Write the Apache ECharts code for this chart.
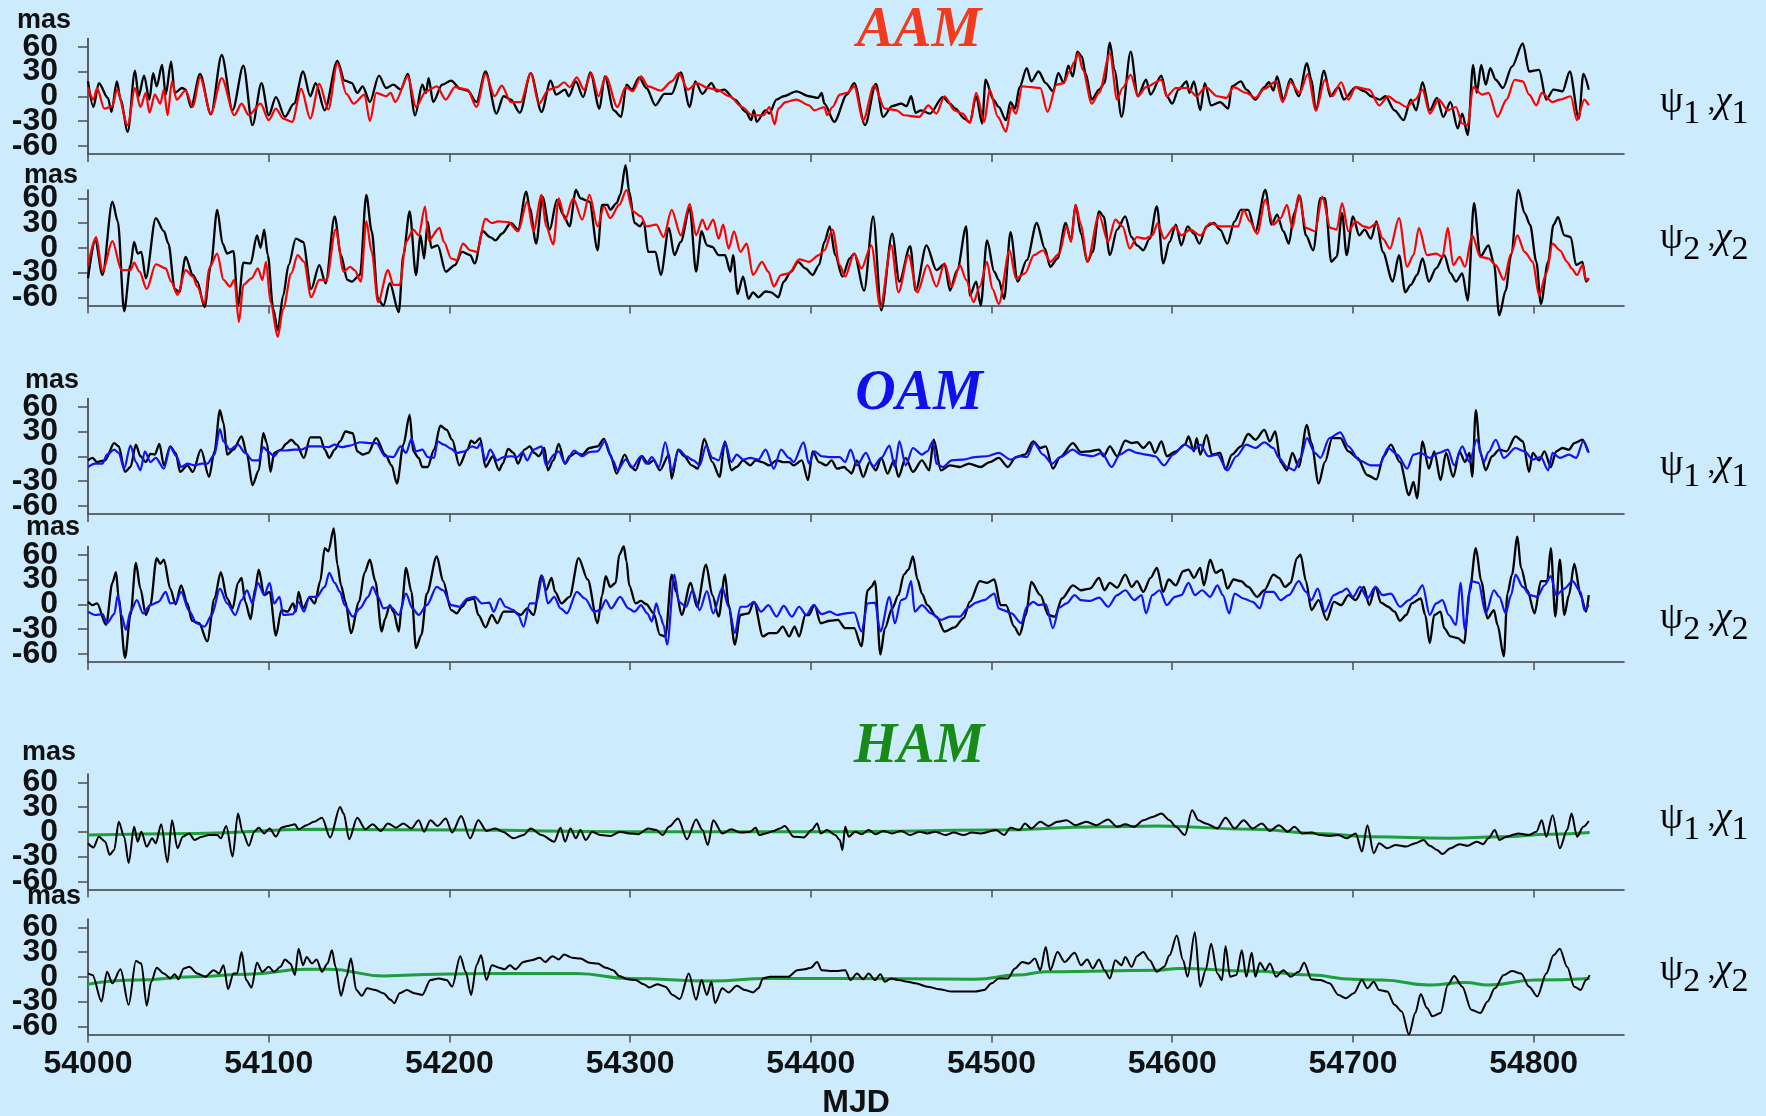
<!DOCTYPE html>
<html><head><meta charset="utf-8">
<script src="https://cdn.jsdelivr.net/npm/echarts@6.0.0/dist/echarts.min.js"></script>
<style>html,body{margin:0;padding:0;background:#CCEBFC;}#c{width:1766px;height:1116px;}</style>
</head><body><div id="c"></div><script>
// ---- tick labels ----
const xTicks = [54000,54100,54200,54300,54400,54500,54600,54700,54800];
const yTicks = [-60,-30,0,30,60];
const yTicksMajor = [-60,0,60];   // drawn by the main y axis
const yTicksMinor = [-30,30];     // drawn by a companion label axis
const groupTitles = ['AAM','OAM','HAM'];
const rowLabels = ['1','2','1','2','1','2'];

// ---- AAM psi1/chi1 (MJD, mas) ----
const aamPsi1Obs = [[54000,18],[54003,-13],[54006,16],[54011,-2],[54013,-19],[54016,18],[54018,-4],[54022,-43],[54026,31],[54028,0],[54031,25],[54034,-4],[54036,28],[54038,12],[54041,38],[54043,2],[54046,42],[54048,4],[54052,10],[54054,8],[54057,-13],[54062,27],[54068,-22],[54074,50],[54080,-17],[54086,37],[54091,-35],[54096,16],[54100,-23],[54104,-1],[54109,-25],[54114,-9],[54119,30],[54123,0],[54126,16],[54131,-17],[54138,43],[54142,19],[54146,16],[54149,4],[54152,12],[54156,-7],[54161,25],[54165,10],[54169,14],[54173,8],[54177,27],[54181,-23],[54185,14],[54187,4],[54188.5,22],[54191,-7],[54196,14],[54201,19],[54206,9],[54210,7],[54215,-7],[54220,30],[54226,-21],[54230,0],[54234,-4],[54239,-20],[54245,28],[54251,-19],[54256,19],[54259,2],[54264,8],[54266,0],[54270,18],[54274,-1],[54278,29],[54283,-15],[54286,24],[54291,-17],[54295,-25],[54298,14],[54301,8],[54305,23],[54309,10],[54314,-11],[54319,3],[54323,3],[54328,29],[54333,-13],[54336,18],[54340,3],[54345,16],[54348,6],[54352,8],[54358,-4],[54364,-19],[54367,-29],[54368.5,-17],[54370,-31],[54375,-17],[54377,-21],[54381,-4],[54385,0],[54392,6],[54399,0],[54404,-2],[54406,4],[54407.5,-9],[54413,-31],[54420,2],[54424,16],[54430,-35],[54436,15],[54440,-25],[54445,-12],[54450,-9],[54453,-12],[54455.5,0],[54458,-20],[54461,-17],[54466,-21],[54473,-1],[54477,-9],[54480,-15],[54485,-27],[54488,-32],[54491.5,0],[54494.8,-33],[54496.7,20],[54501,-4],[54504,-13],[54508,-29],[54510.5,-7],[54513,-15],[54515.5,11],[54519.5,34],[54522,18],[54526,30],[54530,16],[54534,6],[54537,28],[54540,16],[54542.5,37],[54545,24],[54547.5,54],[54550,48],[54552,28],[54555.5,-4],[54559.5,8],[54562.5,16],[54565.5,65],[54568,32],[54572,-25],[54577,54],[54581,0],[54585.5,20],[54588,2],[54594,25],[54597,0],[54600,-9],[54603.5,8],[54608,18],[54609.5,4],[54612,18],[54615.5,-17],[54618,16],[54621.5,-11],[54626.5,-7],[54631,-15],[54633,12],[54638,18],[54641,8],[54646,-4],[54651,11],[54653.5,17],[54656,7],[54658,24],[54661.5,-4],[54665.5,21],[54670,0],[54674.5,40],[54677,20],[54679.5,-17],[54684,31],[54687.5,0],[54692,11],[54695,-4],[54701.5,11],[54706.5,6],[54710,0],[54715,-4],[54718,0],[54723,-17],[54728,-29],[54732,-4],[54735,-17],[54738.5,17],[54742.5,-17],[54746.5,-2],[54750,-25],[54754,-7],[54758,-39],[54760.5,-21],[54763.5,-47],[54766.5,38],[54768.5,4],[54771,38],[54773.5,14],[54776,34],[54779,20],[54783,10],[54788,36],[54794,64],[54797.5,30],[54803,32],[54807,-4],[54811,8],[54816,6],[54820,30],[54825,-27],[54827.5,27],[54830.5,8]];
const aamPsi1Model = [[54000,11],[54003,-4],[54005,10],[54009,-15],[54013.5,-12],[54016,8],[54022,-35],[54026,10],[54029,-13],[54032,4],[54034,-20],[54037,2],[54040,-9],[54042,8],[54044,-23],[54046.5,18],[54049,-4],[54054,7],[54058,-13],[54062,23],[54068,-21],[54074,22],[54081,-23],[54085,-9],[54089,-23],[54095.5,-9],[54100,-29],[54104,-15],[54108,-27],[54113,-31],[54118,9],[54123,-27],[54128,15],[54133,-16],[54138,40],[54143,3],[54147,-9],[54153,2],[54156,-30],[54159.5,4],[54165,0],[54167.5,4],[54170,-7],[54177,24],[54181.5,-13],[54187,6],[54193,12],[54198,-4],[54203,11],[54210,8],[54215,-13],[54220,27],[54225,0],[54229,13],[54234,-7],[54239.5,-7],[54245,28],[54249.5,-9],[54255,8],[54259.5,11],[54263.5,17],[54266.5,11],[54270.5,23],[54274.5,8],[54278.5,28],[54282.5,0],[54286.5,24],[54293,-13],[54297.5,11],[54301.5,6],[54306,24],[54310,12],[54317,7],[54323,18],[54327,28],[54332,8],[54337,16],[54343,10],[54348,8],[54355,0],[54362,-13],[54367.5,-23],[54374,-23],[54377,-13],[54380,-34],[54382,-15],[54386,-7],[54392,-4],[54399,-11],[54402,-17],[54407.5,-13],[54409,-23],[54412,-13],[54416,2],[54420,4],[54424,12],[54429,-29],[54435,13],[54441,-15],[54447.5,-17],[54451.5,-23],[54460,-25],[54465,-11],[54469.5,-21],[54474,0],[54479.5,-17],[54484,-21],[54488,-32],[54491.5,4],[54496,-31],[54499,8],[54503.5,-25],[54508,-43],[54511,-13],[54513.5,-21],[54517,12],[54522,11],[54527,10],[54531,-19],[54536,14],[54540,16],[54543,30],[54546,42],[54548,52],[54550.5,32],[54555.5,-9],[54559.5,4],[54565.5,52],[54569.5,-4],[54572.5,10],[54577,26],[54581,0],[54585.5,11],[54594,20],[54597,0],[54602,10],[54608.5,10],[54613.5,0],[54618.5,11],[54625,0],[54630,-2],[54634,11],[54641,4],[54646,-2],[54651,9],[54657.5,18],[54661,-7],[54665.5,17],[54670.5,4],[54675,27],[54679.5,-17],[54684.5,20],[54688.5,0],[54693.5,17],[54697.5,-4],[54701.5,11],[54709,8],[54714.5,-11],[54719.5,0],[54724.5,-7],[54729.5,-13],[54734.5,-4],[54738.5,8],[54742.5,-21],[54747.5,-4],[54752.5,-17],[54757,-13],[54760.5,-33],[54763.5,-35],[54766.5,11],[54771.5,2],[54775,4],[54780,-25],[54785,-4],[54789.5,20],[54794,18],[54797.5,2],[54801.5,-11],[54804.5,4],[54810.5,-7],[54814.5,-4],[54820.5,0],[54824,-29],[54828,-4],[54830.5,-11]];

// ---- AAM psi2/chi2 ----
const aamPsi2Obs = [[54000,-37],[54004,9],[54008,-33],[54013.5,56],[54016.5,32],[54020,-77],[54023.5,-21],[54025.5,7],[54027.5,-7],[54029.5,-5],[54032,-37],[54037.5,36],[54042,20],[54044.5,5],[54048,-50],[54050.5,-54],[54054,-11],[54058,-33],[54060.5,-41],[54064.5,-72],[54068,-21],[54071.5,46],[54074.5,5],[54077,-7],[54080.5,-4],[54083,-70],[54086,-18],[54090,-19],[54093.5,15],[54095.5,0],[54097.5,22],[54099.5,-9],[54102.5,-74],[54105,-100],[54108,-58],[54111,-21],[54115,11],[54119,7],[54123.5,-50],[54128,-21],[54131.5,-43],[54136.5,38],[54140,-9],[54143.5,-39],[54146,-41],[54150.5,-33],[54154,64],[54157,20],[54160.5,-62],[54163.5,-70],[54167,-43],[54172,-78],[54174.5,-9],[54178,44],[54181.5,-33],[54184,15],[54186,-13],[54188,32],[54190,0],[54193.5,3],[54198,-29],[54203,-21],[54207,-5],[54211.5,-9],[54214,-19],[54218.5,20],[54222.5,13],[54225.5,9],[54229,17],[54234,30],[54238,22],[54242.5,68],[54244.5,48],[54248,5],[54251.5,62],[54255.5,22],[54259.5,58],[54263,40],[54266.5,26],[54270,70],[54272.5,60],[54277.5,56],[54282,-3],[54284.5,52],[54287.5,52],[54289,46],[54292.5,54],[54294.5,64],[54297.5,100],[54299.5,68],[54302.5,30],[54305.5,26],[54307.5,32],[54310,-5],[54314,-5],[54317,-33],[54321.5,24],[54324.5,-9],[54328,7],[54333,48],[54336.5,-29],[54339.5,20],[54342.5,3],[54345.5,1],[54349,-9],[54352.5,-9],[54355.5,-29],[54357,-9],[54359.5,-56],[54362.5,-35],[54365.5,-62],[54368,-54],[54371,-60],[54375,-53],[54378,-54],[54382,-60],[54385,-41],[54389,-29],[54393,-17],[54397,-25],[54401,-33],[54404.5,-21],[54407.5,7],[54410.5,26],[54413.5,-9],[54417.5,-35],[54421.5,-13],[54424,-7],[54429.5,-52],[54434.5,38],[54439,-76],[54445,17],[54449,-41],[54455,2],[54458,-52],[54464,3],[54469.5,-27],[54474,-20],[54477,-52],[54481,-27],[54486,26],[54488,-58],[54491.5,-41],[54494,-70],[54497.5,9],[54501.5,-29],[54504,-39],[54507,-62],[54510.5,19],[54514.5,-41],[54519.5,-15],[54525,30],[54529.5,-1],[54532.5,-23],[54536.5,-13],[54541,30],[54544,9],[54546.5,52],[54549.5,17],[54553,-17],[54556,-5],[54559.5,44],[54562,38],[54565.5,-9],[54569.5,22],[54574,38],[54577.5,13],[54580.5,3],[54584,-3],[54587.5,11],[54591.5,50],[54595,-19],[54598.5,7],[54602,28],[54605,3],[54608.5,26],[54612,17],[54615,5],[54619,26],[54623,30],[54626.5,22],[54630.5,5],[54634.5,32],[54638,46],[54642,46],[54646,20],[54651.5,70],[54655,28],[54658,40],[54661.5,20],[54664.5,5],[54667.5,42],[54670.5,63],[54674,15],[54678,-3],[54682,60],[54684.5,60],[54688,-17],[54691,-11],[54694,42],[54696.5,-9],[54700,38],[54703.5,15],[54706.5,22],[54710,11],[54713,32],[54716.5,-5],[54722,-41],[54725.5,-9],[54729,-54],[54732,-45],[54735.5,-33],[54738.5,-13],[54742,-41],[54746,-25],[54750.5,-9],[54754,-31],[54757,-41],[54760.5,-31],[54763.5,-64],[54767,54],[54770.5,-11],[54775,3],[54778,-19],[54781,-82],[54784.5,-52],[54787.5,-9],[54791.5,70],[54795,42],[54798,28],[54801.5,-17],[54804,-68],[54808,-17],[54811,28],[54813.5,37],[54817,15],[54820.5,13],[54823.5,-21],[54827,-17],[54829,-41],[54830.5,-37]];
const aamPsi2Model = [[54000,-21],[54004.5,13],[54008,-29],[54013.5,8],[54018.5,-27],[54023.5,-27],[54025.5,-18],[54028.5,-29],[54032.5,-50],[54037.5,-20],[54043,-25],[54046,-41],[54049.5,-57],[54054,-27],[54058,-35],[54060.5,-47],[54064.5,-68],[54067,-25],[54071.5,-7],[54075,-39],[54078.5,-47],[54081,-39],[54083.5,-90],[54086,-45],[54090.5,-37],[54094,-25],[54096.5,-39],[54098.5,-17],[54101,-66],[54105,-108],[54108,-74],[54112.5,-31],[54116,-9],[54119.5,-17],[54123.5,-60],[54128,-39],[54132,-39],[54137,22],[54141.5,-29],[54145,-23],[54147.5,-27],[54151,-41],[54154,32],[54157,-5],[54160.5,-66],[54166,-27],[54169,-45],[54172.5,-45],[54176,7],[54180,22],[54183,15],[54186.5,50],[54188.5,9],[54194.5,24],[54197,7],[54201,-13],[54204,-15],[54207.5,5],[54211.5,-3],[54215,-5],[54220,35],[54223.5,30],[54227,32],[54232.5,31],[54238,20],[54243,56],[54246.5,20],[54251,64],[54253.5,26],[54257.5,4],[54260.5,60],[54264,34],[54268.5,60],[54273.5,34],[54277.5,64],[54282,26],[54285.5,50],[54289,36],[54294,52],[54298,70],[54301.5,44],[54306,38],[54309,26],[54314.5,28],[54318.5,13],[54323,46],[54328,15],[54333,53],[54336.5,15],[54340,34],[54342.5,22],[54346,34],[54349,11],[54351.5,28],[54354.5,-1],[54357.5,20],[54361,-5],[54364.5,5],[54368,-33],[54373,-17],[54376.5,-29],[54379.5,-47],[54383.5,-33],[54388,-31],[54393.5,-14],[54399,-17],[54404.5,-9],[54407.5,-3],[54412,22],[54416,-21],[54419,-35],[54424,-7],[54428,-25],[54433.5,3],[54438.5,-72],[54444.5,3],[54448.5,-54],[54454,-9],[54459,-54],[54464.5,-21],[54469.5,-47],[54474,-19],[54478,-47],[54482.5,-21],[54486,-39],[54490,-66],[54493.5,-47],[54497.5,-17],[54500.5,-50],[54504,-68],[54510,-3],[54513.5,-37],[54518.5,-31],[54523.5,-9],[54528.5,-3],[54532.5,-17],[54537.5,-7],[54541.5,26],[54544,7],[54546.5,52],[54549.5,28],[54553,-17],[54559.5,40],[54564.5,7],[54568.5,34],[54572.5,26],[54576.5,-1],[54580.5,13],[54585,11],[54589,15],[54592,30],[54595.5,11],[54601.5,26],[54605,15],[54610,22],[54615.5,15],[54621,30],[54626.5,26],[54631.5,26],[54636.5,26],[54639.5,46],[54643,32],[54647,17],[54651.5,58],[54656,28],[54660,36],[54663.5,52],[54666.5,24],[54670,64],[54674,24],[54679,20],[54683,62],[54687.5,24],[54691,22],[54694,54],[54697.5,20],[54701.5,32],[54706,26],[54709,24],[54713,30],[54716.5,11],[54720.5,-1],[54725.5,36],[54730,-23],[54733.5,-9],[54736.5,24],[54741,-9],[54746,-7],[54749.5,-11],[54752.5,24],[54755.5,-21],[54759,-11],[54762,-23],[54766,15],[54770.5,-11],[54775,-13],[54779,-21],[54783.5,-39],[54787.5,-7],[54791,15],[54795,-5],[54799.5,-17],[54803,-58],[54807,-31],[54810.5,5],[54814.5,-3],[54818.5,-17],[54821,-25],[54824,-33],[54827,-21],[54829,-39],[54830.5,-37]];

// ---- OAM psi1/chi1 ----
const oamPsi1Obs = [[54000,-5],[54002.5,-2],[54005,-7],[54009.5,-5],[54014.5,16],[54017,12],[54020.5,-19],[54023.5,-13],[54026.5,14],[54029,0],[54032,-7],[54034.5,3],[54037,2],[54039.5,15],[54042,-11],[54045.5,12],[54048.5,4],[54051,-19],[54055,-11],[54058,-19],[54062.5,8],[54067,-25],[54070,6],[54073,56],[54075,40],[54077,2],[54080.5,8],[54085,24],[54088,2],[54091,-35],[54094.5,-17],[54097,28],[54099,16],[54101,-19],[54103,4],[54107,8],[54109.5,15],[54112.5,20],[54115.5,14],[54119.5,-2],[54123,23],[54128.5,23],[54131,8],[54133.5,-2],[54136.5,8],[54139.5,18],[54142.5,30],[54146.5,28],[54149,6],[54152,2],[54155,4],[54159.5,22],[54164.5,2],[54168,-11],[54171,-33],[54174.5,14],[54178,50],[54180,6],[54183,-2],[54185,-13],[54188,-13],[54191.5,8],[54195,37],[54198.5,32],[54201.5,20],[54205.5,-11],[54210,8],[54212,19],[54214,16],[54217,22],[54220,-13],[54224,0],[54227.5,-17],[54229.5,-9],[54232.5,9],[54235.5,4],[54238,-9],[54241.5,8],[54244.5,12],[54247,4],[54249.5,0],[54252.5,10],[54254.5,-17],[54257.5,-5],[54260.5,15],[54264,-9],[54266.5,0],[54270,4],[54273.5,2],[54277.5,10],[54282,12],[54285.5,21],[54289,2],[54292.5,-21],[54297,2],[54300.5,-13],[54303,-17],[54306.5,0],[54310,-9],[54313,-5],[54316.5,-17],[54321.5,2],[54323,-27],[54326.5,8],[54330,0],[54334,-11],[54337.5,-15],[54341,21],[54345.5,-7],[54349.5,-25],[54352.5,18],[54356,-17],[54359,-13],[54362.5,-5],[54366.5,-11],[54369.5,-5],[54373,-7],[54377,-11],[54381,-5],[54384.5,-7],[54388,-7],[54390.5,-11],[54395,-5],[54398.5,-29],[54401,6],[54404.5,-7],[54408.5,-11],[54411.5,-5],[54414.5,-15],[54418.5,-13],[54420.5,-17],[54422.5,-21],[54425.5,-5],[54429,-25],[54432.5,-7],[54436,-17],[54439,-2],[54442.5,-21],[54446,-5],[54448.5,-25],[54452.5,-2],[54456.5,-19],[54461.5,-5],[54465.5,-17],[54468,20],[54472,-17],[54477,-11],[54482.5,-13],[54487.5,-9],[54494,-13],[54499,-7],[54504,-2],[54509,-13],[54513.5,-1],[54518.5,2],[54523,18],[54527,10],[54530,12],[54534,-15],[54538,-1],[54545,16],[54549.5,5],[54554.5,6],[54559.5,8],[54562,0],[54565.5,12],[54569.5,0],[54574,19],[54577.5,16],[54580.5,17],[54584,10],[54587.5,17],[54590.5,4],[54594,18],[54597,0],[54602,6],[54607,14],[54609,24],[54612,6],[54613.5,22],[54615.5,2],[54619,26],[54622,2],[54626.5,4],[54629.5,-16],[54633,2],[54638,12],[54642,27],[54646,20],[54651,32],[54654,18],[54657,30],[54660,-7],[54663.5,-17],[54666.5,4],[54670,-13],[54674.5,38],[54677,16],[54681,-33],[54684.5,-7],[54688.5,22],[54693,22],[54697.5,6],[54702.5,-2],[54708,-23],[54713,-28],[54717,0],[54721,14],[54726,-7],[54731,-47],[54733.5,-31],[54735.5,-51],[54738.5,18],[54742,-15],[54745,6],[54748.5,-29],[54751.5,4],[54755.5,-25],[54759,6],[54762,-7],[54764.5,4],[54766,-25],[54768,56],[54770.5,4],[54773.5,-17],[54777,0],[54781,8],[54785,6],[54790,24],[54794,18],[54797.5,-19],[54799.5,4],[54803,-5],[54806,6],[54809.5,-13],[54812.5,6],[54816,10],[54819.5,8],[54822.5,16],[54827,20],[54830,6]];
const oamPsi1Model = [[54000,-13],[54004,-9],[54008,-9],[54010.5,2],[54014.5,8],[54017,4],[54020,-15],[54023.5,13],[54026.5,-7],[54029,-17],[54031.5,6],[54034.5,-7],[54037.5,-2],[54042,-15],[54045.5,11],[54049,0],[54051.5,-13],[54055,-9],[54059,-11],[54063,-9],[54066,-9],[54070,2],[54073,33],[54075,18],[54078.5,8],[54083,14],[54087,4],[54091,-5],[54094.5,-5],[54097,11],[54099.5,6],[54103,0],[54106,7],[54109.5,7],[54114,8],[54118,8],[54122.5,12],[54128,12],[54133,11],[54136.5,14],[54140.5,11],[54145,13],[54150.5,17],[54155.5,16],[54159.5,16],[54164.5,0],[54169,-1],[54173,12],[54176,4],[54179,21],[54181.5,6],[54185,8],[54188,-1],[54191.5,-2],[54193.5,18],[54197,14],[54201,9],[54204,4],[54208.5,6],[54212.5,12],[54215.5,10],[54217,16],[54220,-5],[54222.5,8],[54226.5,-5],[54230,-1],[54234,0],[54237.5,-1],[54240.5,5],[54243,-5],[54246.5,8],[54251,12],[54253.5,-11],[54258,2],[54260.5,6],[54264,-9],[54269,7],[54273.5,0],[54277.5,5],[54282,6],[54286,18],[54290.5,-5],[54293,-17],[54297.5,-4],[54301.5,-13],[54306,0],[54309,-9],[54312,-1],[54316,-13],[54319.5,17],[54323,-17],[54327,8],[54331,0],[54335,-5],[54338.5,-11],[54342,13],[54345.5,-2],[54349,-5],[54352.5,17],[54356,-7],[54359,2],[54362.5,-4],[54366.5,-2],[54371,-4],[54375,8],[54379.5,-15],[54383.5,8],[54388,-2],[54390.5,-7],[54396,17],[54399,-9],[54402,6],[54406,0],[54410,-1],[54416,-1],[54419,-7],[54422,8],[54425.5,-11],[54430.5,4],[54434.5,-13],[54439,-2],[54443.5,13],[54446.5,-13],[54449,18],[54452.5,-11],[54456.5,10],[54461.5,2],[54464.5,6],[54467.5,18],[54469.5,-9],[54473,-13],[54478,-5],[54484.5,-4],[54491,-1],[54497.5,0],[54504,4],[54510.5,-4],[54515.5,0],[54519.5,-1],[54523.5,16],[54528.5,2],[54533.5,-9],[54538,-1],[54545,8],[54549.5,2],[54556,0],[54561,4],[54566.5,-13],[54571,2],[54576,8],[54580.5,4],[54585.5,2],[54590.5,0],[54595.5,-11],[54600.5,2],[54607,14],[54612,8],[54615.5,14],[54620,0],[54625,2],[54630.5,-17],[54635.5,0],[54641,14],[54646,10],[54651,17],[54656,10],[54659,-2],[54663.5,-13],[54667.5,-17],[54671,-2],[54674.5,22],[54679,4],[54682,-2],[54687,22],[54693,29],[54697.5,12],[54703.5,-5],[54710,-11],[54714.5,-11],[54719.5,10],[54724.5,2],[54730,-15],[54733.5,2],[54737.5,4],[54742.5,-2],[54747.5,4],[54752.5,8],[54756,-11],[54760.5,12],[54764.5,-7],[54768.5,20],[54772.5,-7],[54775,5],[54779,20],[54783.5,-2],[54790,10],[54795,6],[54799.5,-4],[54804,-1],[54808,-17],[54810.5,4],[54814.5,-2],[54819.5,2],[54823.5,-2],[54827.5,18],[54830.5,4]];

// ---- OAM psi2/chi2 ----
const oamPsi2Obs = [[54000,3],[54002.5,-1],[54005,1],[54010,-25],[54013.5,26],[54015.5,39],[54017,7],[54020.5,-65],[54023.5,-13],[54026.5,50],[54029,19],[54032,-13],[54034.5,-1],[54038,56],[54040,49],[54042,54],[54045.5,19],[54048.5,0],[54051.5,23],[54055,1],[54057.5,-20],[54061.5,-23],[54066,-45],[54070,7],[54073.5,39],[54077,7],[54080,-5],[54083,26],[54085,32],[54087,3],[54090,-18],[54092.5,19],[54094.5,42],[54097.5,11],[54100.5,15],[54104,-38],[54107,-7],[54110.5,-9],[54113.5,1],[54115,-9],[54116.5,15],[54119,-5],[54122.5,8],[54125.5,1],[54128.5,28],[54131,68],[54133,64],[54136,92],[54138,48],[54140,23],[54142.5,3],[54145.5,-35],[54150,3],[54153,38],[54156,54],[54159,28],[54162.5,-33],[54164.5,-17],[54167,-1],[54169,-9],[54172,-33],[54173.5,-5],[54176,44],[54179,15],[54181.5,-53],[54184.5,-37],[54187.5,13],[54193,58],[54196.5,28],[54201,-7],[54204,-11],[54207,-3],[54210,5],[54213.5,7],[54216,-13],[54220,-28],[54223.5,-13],[54226.5,-23],[54230,-9],[54235.5,-9],[54239.5,-13],[54243,-5],[54246.5,-13],[54251,35],[54253.5,17],[54256.5,32],[54258.5,15],[54262,1],[54266.5,9],[54271.5,56],[54276.5,30],[54282,-23],[54284.5,11],[54286.5,34],[54289,21],[54292,26],[54294,60],[54296.5,70],[54298,52],[54299.5,23],[54303,1],[54306,4],[54309,0],[54313,-11],[54316.5,-37],[54319.5,-39],[54323,36],[54325.5,15],[54328.5,-13],[54333.5,26],[54337,-3],[54342,48],[54345.5,11],[54349,-15],[54352.5,36],[54354.5,-1],[54358,-49],[54361,-13],[54365.5,-11],[54368.5,3],[54373.5,-39],[54377,-35],[54381,-35],[54384.5,-27],[54388,-39],[54391,-27],[54393.5,-39],[54397,-13],[54399,-13],[54402,-1],[54405.5,-23],[54410.5,-20],[54415,-19],[54419,-29],[54424,-29],[54428,-51],[54431.5,17],[54433.5,21],[54435.5,28],[54438.5,-61],[54441,-29],[54445,-5],[54448.5,11],[54451.5,36],[54454,42],[54456.5,58],[54459,30],[54461.5,13],[54464.5,-1],[54469.5,-15],[54474,-33],[54479.5,-28],[54484.5,-17],[54488,3],[54493.5,28],[54497.5,26],[54501.5,30],[54505,-1],[54508,-1],[54512.5,-27],[54515.5,-37],[54519,-13],[54522,27],[54527,11],[54531.5,-13],[54535,-15],[54539,7],[54545,23],[54549.5,17],[54554.5,19],[54559.5,32],[54562.5,17],[54565.5,26],[54569.5,20],[54574,36],[54577.5,21],[54580.5,28],[54584,15],[54588,32],[54591.5,44],[54595,15],[54598,30],[54602,23],[54606,40],[54609,42],[54612,32],[54615.5,44],[54617.5,23],[54621,54],[54624,38],[54627.5,42],[54630.5,19],[54634,30],[54638,28],[54642,21],[54647,9],[54651,17],[54656,36],[54659,32],[54662.5,21],[54665.5,26],[54669,56],[54671,60],[54674,28],[54677,-7],[54681,5],[54685.5,-19],[54689.5,3],[54693.5,-1],[54697.5,11],[54701.5,5],[54706,21],[54709,-1],[54712.5,21],[54715.5,2],[54719.5,-3],[54723,-9],[54726,-20],[54729.5,-13],[54732.5,1],[54737.5,7],[54740,-13],[54742.5,-47],[54745,-13],[54748.5,-9],[54750.5,-29],[54754,-39],[54758,-41],[54761.5,-47],[54764.5,15],[54768,68],[54771,28],[54774.5,-17],[54778,-7],[54780,-25],[54783.5,-63],[54785.5,13],[54788,36],[54791,82],[54793,44],[54796.5,17],[54800.5,-11],[54804,28],[54807.5,28],[54809.5,68],[54812,-15],[54814.5,54],[54817,-13],[54819.5,11],[54822.5,49],[54826,11],[54829,-9],[54830.5,11]];
const oamPsi2Model = [[54000,-9],[54004,-13],[54008,-12],[54010.5,-23],[54014.5,-12],[54016.5,11],[54018.5,-13],[54021,-31],[54023.5,-9],[54027,5],[54030.5,-11],[54034.5,-1],[54039,3],[54043,15],[54045.5,1],[54048.5,2],[54051.5,15],[54056,-8],[54060,-23],[54064.5,-27],[54068.5,-13],[54073,19],[54077,1],[54081.5,-13],[54085,5],[54088,17],[54091,1],[54094,26],[54097.5,11],[54100.5,26],[54103,1],[54106,9],[54108,-13],[54113.5,-12],[54116.5,3],[54119.5,-9],[54122.5,9],[54126.5,9],[54131,21],[54133.5,38],[54136.5,26],[54139.5,15],[54142,-1],[54146.5,-15],[54150.5,-5],[54155,9],[54157.5,21],[54160.5,9],[54163.5,-5],[54167.5,-3],[54172,-13],[54176,13],[54179.5,-5],[54183,-13],[54187.5,-1],[54193,21],[54196.5,17],[54201,-1],[54205.5,-3],[54210,7],[54214,9],[54218,1],[54222,2],[54224.5,-9],[54228,7],[54231,-3],[54235.5,-7],[54238,-13],[54241,-27],[54244.5,1],[54248,1],[54251.5,34],[54254.5,1],[54258,9],[54261.5,-5],[54265,-11],[54270.5,15],[54275,7],[54280,-9],[54283.5,-7],[54286.5,5],[54289.5,-5],[54294.5,9],[54299,-5],[54302.5,-9],[54306,-1],[54309.5,-11],[54312,-21],[54314.5,1],[54316.5,-13],[54318.5,-25],[54320.5,-49],[54324.5,36],[54327,3],[54331,-3],[54334.5,17],[54338.5,-7],[54342.5,16],[54346,-11],[54351,20],[54354.5,-3],[54358,-35],[54361,-3],[54364.5,-3],[54368.5,3],[54372.5,-9],[54376.5,-1],[54381,-15],[54385,-2],[54389.5,-15],[54393.5,-3],[54397.5,-13],[54401.5,-1],[54406,-12],[54410.5,-9],[54414.5,-13],[54419.5,-11],[54424,-10],[54428,-33],[54431.5,1],[54435.5,2],[54438.5,-33],[54443.5,9],[54446.5,-23],[54450,5],[54452.5,7],[54455.5,28],[54457.5,-9],[54461.5,-1],[54466.5,-11],[54472,-19],[54477,-15],[54482.5,-15],[54487,-4],[54491.5,2],[54496,5],[54501.5,13],[54504,-5],[54506.5,-7],[54511,-11],[54516.5,-23],[54519.5,-3],[54523,3],[54526,-1],[54530,0],[54534,-29],[54537.5,-4],[54541.5,1],[54546,11],[54549.5,5],[54554.5,4],[54559.5,8],[54564.5,-3],[54569.5,11],[54574,17],[54579,5],[54583,11],[54585.5,-11],[54589,11],[54593,17],[54597,-1],[54601.5,9],[54605,11],[54609,26],[54612.5,11],[54616.5,17],[54621,9],[54625,23],[54628,11],[54631.5,-11],[54634.5,13],[54639.5,7],[54644.5,3],[54648.5,-5],[54651.5,15],[54656,15],[54660,5],[54664.5,11],[54670,28],[54674,15],[54677,5],[54680.5,19],[54684.5,-9],[54689.5,11],[54693.5,15],[54696.5,19],[54700,9],[54704,21],[54708,7],[54712.5,21],[54716.5,11],[54721,13],[54726,-3],[54731,5],[54734.5,11],[54738.5,23],[54742.5,-13],[54746,1],[54749.5,5],[54753,-13],[54757,-25],[54759.5,26],[54762,-31],[54765.5,28],[54769.5,26],[54773.5,-11],[54778,17],[54781,9],[54784.5,-11],[54787.5,11],[54790,36],[54794,21],[54798,11],[54802,9],[54806,23],[54809.5,34],[54812.5,11],[54817,19],[54821.5,28],[54826,15],[54828,-7],[54830.5,-1]];

// ---- HAM psi1/chi1 ----
const hamPsi1Obs = [[54000,-14],[54003,-19],[54006,-6],[54009.5,-12],[54012,-28],[54014.5,-22],[54017,12],[54020,-6],[54022.5,-38],[54025.5,6],[54027.5,-12],[54029.5,0],[54032.5,-18],[54035.5,-8],[54037.5,-14],[54040.5,9],[54044,-37],[54046.5,14],[54049.5,-20],[54052.5,-6],[54056,-2],[54059,-10],[54063,-6],[54067,-4],[54071.5,-4],[54073.5,-8],[54076.5,7],[54080,-30],[54083,22],[54085.5,0],[54089,-17],[54092,0],[54094.5,5],[54097.5,-2],[54100.5,4],[54104,-6],[54107,5],[54110.5,7],[54114.5,9],[54116.5,3],[54121,8],[54125,12],[54129.5,17],[54134,-7],[54139.5,30],[54141.5,22],[54144.5,-9],[54149,17],[54153.5,3],[54157.5,9],[54162,1],[54166,10],[54170.5,5],[54174.5,10],[54179,4],[54183,14],[54186,0],[54189.5,14],[54193.5,7],[54198,16],[54201.5,-1],[54206.5,19],[54211.5,-8],[54216,14],[54220.5,1],[54225.5,4],[54229.5,0],[54235.5,-8],[54241,-4],[54245,4],[54251,-4],[54258,-12],[54261.5,5],[54264,-12],[54267,4],[54270,-8],[54272.5,2],[54275.5,-10],[54279,0],[54283.5,-4],[54289,-5],[54294.5,0],[54299.5,-2],[54304.5,-3],[54310,4],[54314.5,2],[54318,-4],[54321.5,6],[54326.5,16],[54331.5,-9],[54336.5,15],[54340,2],[54343,-16],[54346,14],[54351,-2],[54356,3],[54361,-1],[54366.5,0],[54369.5,5],[54371.5,-4],[54375,-2],[54379.5,1],[54383,4],[54385.5,7],[54390.5,-6],[54396,-7],[54400.5,2],[54403.5,10],[54405.5,-2],[54409,2],[54413.5,-4],[54416,-10],[54417.5,-22],[54419,6],[54421,-6],[54424.5,0],[54428,-3],[54432,2],[54436,-3],[54440,1],[54445,-2],[54450,1],[54455,-4],[54460,0],[54464.5,-2],[54469,0],[54474.5,-4],[54479,-1],[54484.5,-4],[54489,-1],[54494,-2],[54502.5,2],[54507,-4],[54510.5,5],[54515.5,2],[54518.5,10],[54522,4],[54527,12],[54531.5,7],[54536.5,12],[54541.5,14],[54546.5,8],[54552.5,12],[54558,8],[54564.5,15],[54569.5,6],[54574,9],[54579,6],[54584,14],[54589,18],[54594,22],[54598.5,14],[54602,6],[54607,-4],[54611,26],[54614.5,14],[54618.5,10],[54625,4],[54629.5,17],[54634.5,4],[54639.5,14],[54644.5,4],[54649.5,10],[54654,1],[54659,8],[54664,0],[54667.5,6],[54672,-2],[54677,-1],[54682,-4],[54687,-5],[54692,-4],[54696.5,-8],[54701.5,-2],[54705,-24],[54708,8],[54711.5,-26],[54714.5,-14],[54719,-20],[54723.5,-16],[54729.5,-18],[54734.5,-14],[54739,-10],[54742.5,-17],[54746.5,-22],[54749.5,-27],[54754,-20],[54759,-15],[54763.5,-17],[54768.5,-12],[54772,-15],[54775,-8],[54778.5,2],[54781,-10],[54785,-6],[54791.5,-2],[54797.5,-4],[54801.5,0],[54804.5,14],[54807,-6],[54810.5,20],[54814.5,-20],[54818.5,2],[54821,22],[54824,-6],[54827.5,6],[54830.5,13]];
const hamPsi1Model = [[54000,-4],[54060,-2],[54125,3],[54210,2],[54295,0],[54416,0],[54500,2],[54560,6],[54592,7],[54645,3],[54680,-2],[54710,-6],[54753,-8],[54782,-6],[54810,-3],[54831,-1]];

// ---- HAM psi2/chi2 ----
const hamPsi2Obs = [[54000,4],[54002.5,2],[54007.5,-30],[54010.5,6],[54013.5,-8],[54018,9],[54022.5,-34],[54026.5,19],[54029.5,16],[54032.5,-35],[54035,-6],[54038,11],[54042,4],[54045.5,-2],[54048,3],[54050,-3],[54053,10],[54056,12],[54060.5,4],[54065,0],[54069.5,8],[54072.5,4],[54075,14],[54077.5,-15],[54080.5,4],[54082.5,4],[54085,30],[54087.5,-4],[54090.5,-13],[54093.5,17],[54096.5,6],[54100,12],[54103,6],[54106.5,12],[54109,21],[54112,16],[54114.5,2],[54116.5,34],[54119,14],[54121,24],[54124,16],[54126.5,21],[54129.5,6],[54132.5,16],[54135,32],[54137,12],[54140,-23],[54143,0],[54145.5,22],[54148.5,-16],[54151.5,-23],[54154.5,-14],[54159,-16],[54163.5,-20],[54167.5,-28],[54169.5,-32],[54172.5,-20],[54176.5,-16],[54180.5,-20],[54185,-22],[54189.5,-4],[54194,-2],[54198.5,-4],[54201.5,-12],[54206,25],[54209,6],[54212,-22],[54215,14],[54217.5,26],[54220.5,-4],[54223.5,14],[54227.5,11],[54230.5,9],[54233.5,14],[54236.5,9],[54241,18],[54245.5,20],[54250,23],[54253,18],[54257,25],[54260.5,21],[54263.5,27],[54268,23],[54272.5,22],[54277.5,17],[54282,16],[54286.5,11],[54290.5,8],[54294,1],[54298.5,-3],[54303,-4],[54307.5,-9],[54310.5,-13],[54315,-9],[54319.5,-12],[54323.5,-22],[54327.5,-27],[54332.5,4],[54336.5,-28],[54339.5,-4],[54342.5,-22],[54345,-6],[54347,-32],[54351,-14],[54354.5,-19],[54359,-11],[54363.5,-16],[54368,-19],[54371,-14],[54373.5,-2],[54377.5,0],[54382,0],[54387.5,0],[54392.5,8],[54396.5,9],[54400,11],[54403.5,18],[54406,8],[54410.5,7],[54415,7],[54419,8],[54422,-4],[54425.5,4],[54429,-3],[54432,4],[54435.5,-4],[54438.5,3],[54441,-6],[54444.5,-2],[54448.5,-4],[54453.5,-6],[54458,-8],[54464.5,-12],[54471,-15],[54478,-18],[54484.5,-18],[54491,-18],[54496,-16],[54500,-8],[54504,-2],[54509,-2],[54513,10],[54517,18],[54520.5,16],[54524,22],[54527,8],[54530,36],[54532.5,8],[54536.5,30],[54540.5,18],[54546,29],[54549.5,14],[54553,21],[54556,10],[54559.5,21],[54562.5,8],[54565.5,-2],[54568.5,20],[54572,14],[54574,24],[54577.5,12],[54580.5,25],[54584,30],[54587.5,20],[54591.5,6],[54595.5,12],[54598.5,26],[54602.5,50],[54606,20],[54608.5,0],[54612.5,54],[54615.5,-12],[54618.5,8],[54621.5,40],[54625,4],[54627.5,-4],[54629.5,37],[54632,0],[54635.5,2],[54638.5,32],[54641,0],[54644,29],[54646,0],[54648.5,17],[54651.5,8],[54654,16],[54657.5,0],[54661.5,8],[54665.5,0],[54670,6],[54673,17],[54677,-3],[54682,-4],[54687,-8],[54692,-22],[54696,-26],[54700.5,-20],[54705,-4],[54708,-14],[54711.5,-6],[54714.5,-16],[54719,-18],[54723,-34],[54727,-42],[54731,-70],[54734.5,-44],[54737.5,-21],[54741,-38],[54744,-48],[54748.5,-44],[54752.5,-10],[54756,1],[54760.5,-12],[54765.5,-40],[54770.5,-44],[54774.5,-30],[54778.5,-14],[54783.5,2],[54788,7],[54793,4],[54797.5,-12],[54802,-24],[54807,4],[54811,26],[54814.5,34],[54818.5,12],[54822.5,-12],[54826,-16],[54829,-4],[54831,2]];
const hamPsi2Model = [[54000,-9],[54027,-4],[54058,0],[54088,3],[54121,9],[54133,9],[54164,1],[54194,3],[54224,4],[54270,4],[54300,-2],[54345,-5],[54376,-2],[54416,-2],[54491,-3],[54514,2],[54530,6],[54563,7],[54592,8],[54604,10],[54644,7],[54677,2],[54700,-3],[54716,-4],[54742,-10],[54762,-7],[54775,-10],[54801,-4],[54831,-2]];

// ---- layout / style (not data) ----
const GRID_TOPS = [38.5, 190, 398.5, 546.5, 774, 919];
const GRID_H = 115.5;
const MODEL_COLORS = ['#FF0000','#FF0000','#1414F0','#1414F0','#1E9E3C','#1E9E3C'];
const TITLE_COLORS = ['#F23A1E','#1010EE','#178A17'];
const TITLE_Y = [31.5, 395, 747.5];
const MAS_POS = [[71,21],[78,176],[79,381],[80,528],[76,753],[81,897]];
const ROW_LABEL_Y = [102, 238, 465, 618, 818, 970];
const obsSets = [aamPsi1Obs, aamPsi2Obs, oamPsi1Obs, oamPsi2Obs, hamPsi1Obs, hamPsi2Obs];
const modelSets = [aamPsi1Model, aamPsi2Model, oamPsi1Model, oamPsi2Model, hamPsi1Model, hamPsi2Model];

const SANS = '"Liberation Sans", Arial, Helvetica, sans-serif';
const SERIF = '"Liberation Serif", "Times New Roman", serif';

const grids = [], xAxes = [], yAxes = [], series = [], graphics = [];
const yLabelStyle = (vals) => ({show: true, customValues: vals, margin: 30, fontSize: 32, fontWeight: 'bold',
  fontFamily: SANS, color: '#111', hideOverlap: false, showMinLabel: true, showMaxLabel: true,
  formatter: v => String(v)});
for (let i = 0; i < 6; i++) {
  grids.push({left: 88, right: 142, top: GRID_TOPS[i], height: GRID_H, outerBoundsMode: 'none', containLabel: false});
  xAxes.push({
    type: 'value', gridIndex: i, min: 54000, max: 54850, interval: 100,
    axisLine: {show: true, onZero: false, lineStyle: {color: '#3c3c3c', width: 1.6}},
    axisTick: {show: true, inside: false, length: 8, customValues: xTicks, lineStyle: {color: '#555', width: 1.6}},
    axisLabel: {show: i === 5, customValues: xTicks, margin: 14, fontSize: 32, fontWeight: 'bold',
      fontFamily: SANS, color: '#111', hideOverlap: false, showMinLabel: true, showMaxLabel: true,
      formatter: v => String(v)},
    splitLine: {show: false}
  });
}
// main y axes (index 0..5): axis line, all ticks, labels -60/0/60
for (let i = 0; i < 6; i++) {
  yAxes.push({
    type: 'value', gridIndex: i, position: 'left', offset: 0, min: -70, max: 70,
    axisLine: {show: true, onZero: false, lineStyle: {color: '#3c3c3c', width: 1.6}},
    axisTick: {show: true, inside: false, length: 10, customValues: yTicks, lineStyle: {color: '#555', width: 1.6}},
    axisLabel: yLabelStyle(yTicksMajor),
    splitLine: {show: false}
  });
}
// companion y axes (index 6..11): only labels -30/30
for (let i = 0; i < 6; i++) {
  yAxes.push({
    type: 'value', gridIndex: i, position: 'left', offset: 0, min: -70, max: 70,
    axisLine: {show: false}, axisTick: {show: false},
    axisLabel: yLabelStyle(yTicksMinor),
    splitLine: {show: false}
  });
}
for (let i = 0; i < 6; i++) {
  const isHam = i >= 4;
  series.push({type: 'line', xAxisIndex: i, yAxisIndex: i, data: obsSets[i], showSymbol: false, symbol: 'none',
    clip: false, smooth: 0.3, smoothMonotone: 'x', animation: false,
    lineStyle: {color: '#000', width: isHam ? 2 : 2.3}, z: isHam ? 3 : 2});
  series.push({type: 'line', xAxisIndex: i, yAxisIndex: i, data: modelSets[i], showSymbol: false, symbol: 'none',
    clip: false, smooth: isHam ? true : 0.3, smoothMonotone: 'x', animation: false,
    lineStyle: {color: MODEL_COLORS[i], width: isHam ? 3 : 2.2}, z: isHam ? 2 : 3});

  graphics.push({type: 'text', x: MAS_POS[i][0], y: MAS_POS[i][1], silent: true,
    style: {text: 'mas', fontSize: 27, fontWeight: 'bold', fontFamily: SANS, fill: '#111',
      textAlign: 'right', textVerticalAlign: 'middle'}});
  const k = rowLabels[i];
  graphics.push({type: 'text', x: 1660, y: ROW_LABEL_Y[i], silent: true,
    style: {text: '{g|ψ}{s|' + k + '}{c| ,}{x|χ}{s|' + k + '}', textAlign: 'left', textVerticalAlign: 'middle',
      fontFamily: SERIF, fontSize: 36, fill: '#000',
      rich: {g: {fontFamily: SERIF, fontSize: 37, fill: '#000'},
             c: {fontFamily: SERIF, fontSize: 30, fill: '#000'},
             x: {fontFamily: SERIF, fontSize: 37, fontStyle: 'italic', fill: '#000'},
             s: {fontFamily: SERIF, fontSize: 34, fill: '#000', padding: [24, 0, 0, 0]}}}});
}
for (let g = 0; g < 3; g++) {
  graphics.push({type: 'text', x: 919, y: TITLE_Y[g], silent: true,
    style: {text: groupTitles[g], fontSize: 56, fontWeight: 'bold', fontStyle: 'italic', fontFamily: SERIF,
      fill: TITLE_COLORS[g], textAlign: 'center', textVerticalAlign: 'middle'}});
}
graphics.push({type: 'text', x: 856, y: 1103, silent: true,
  style: {text: 'MJD', fontSize: 32, fontWeight: 'bold', fontFamily: SANS, fill: '#111',
    textAlign: 'center', textVerticalAlign: 'middle'}});

const chart = echarts.init(document.getElementById('c'), null, {renderer: 'canvas', width: 1766, height: 1116});
chart.setOption({
  backgroundColor: '#CCEBFC',
  animation: false,
  grid: grids, xAxis: xAxes, yAxis: yAxes, series: series,
  graphic: graphics
});
</script></body></html>
